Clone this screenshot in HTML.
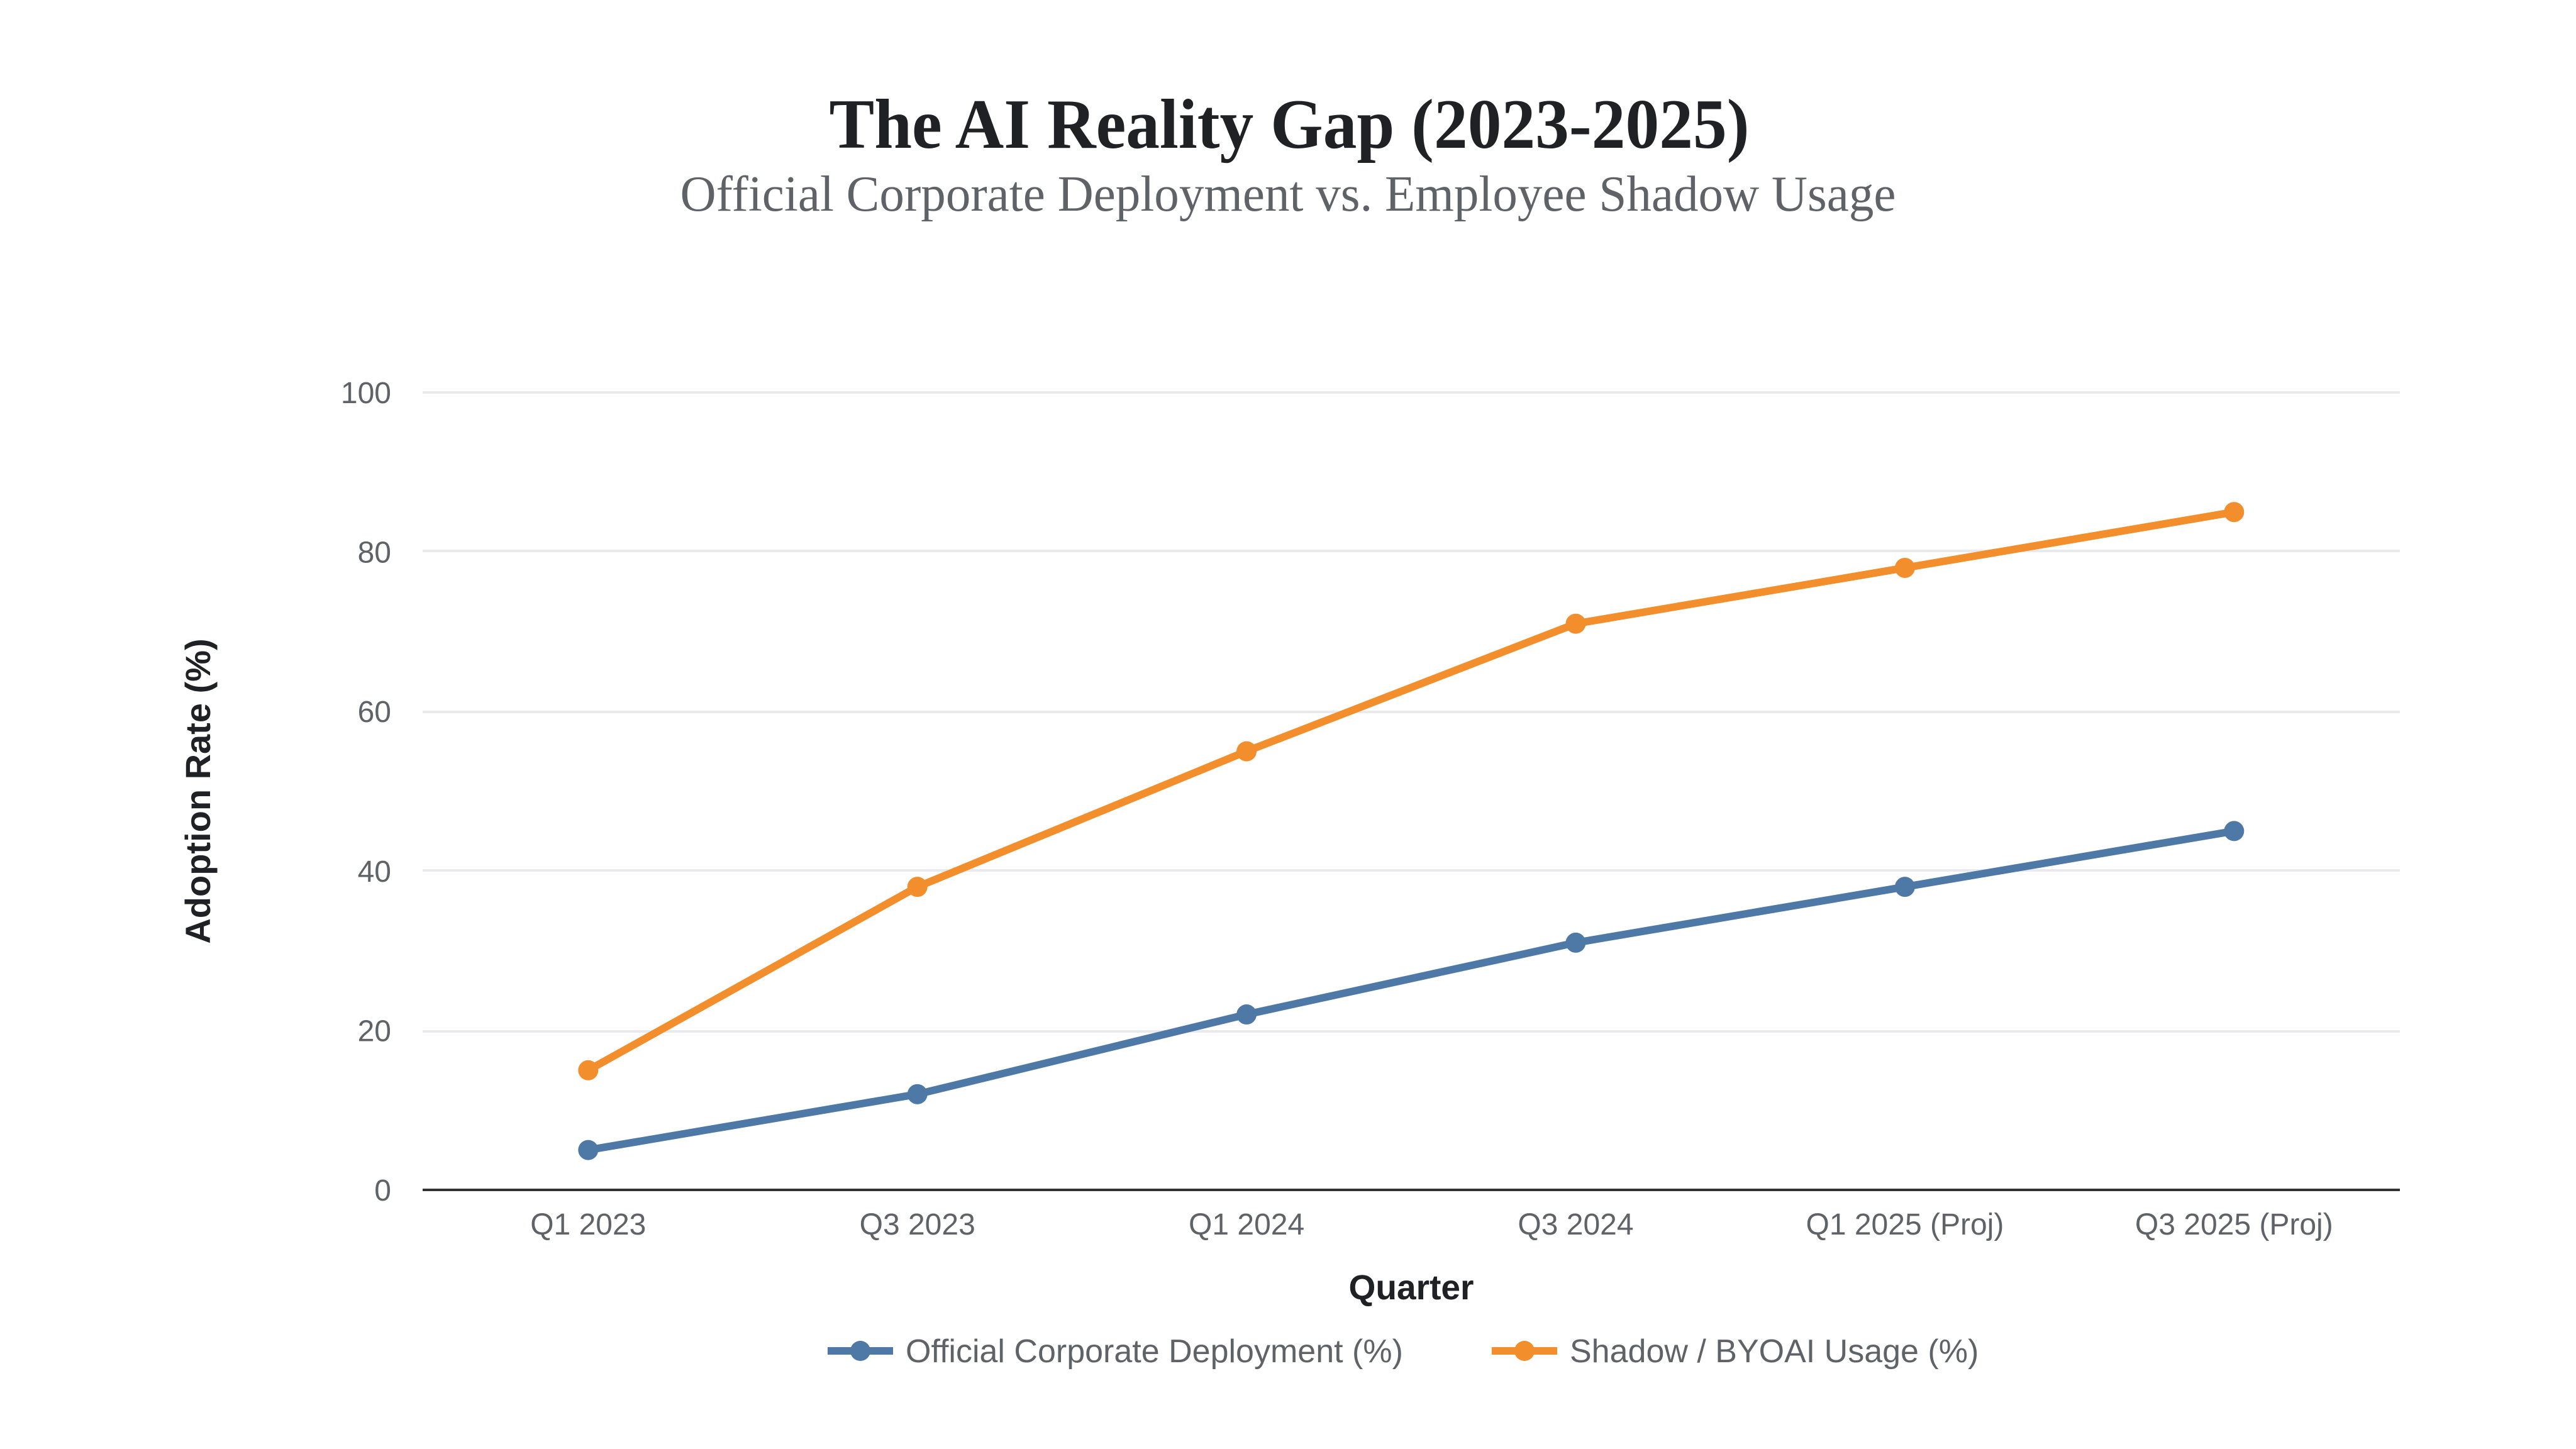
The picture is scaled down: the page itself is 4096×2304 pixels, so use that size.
<!DOCTYPE html>
<html lang="en">
<head>
<meta charset="utf-8">
<title>The AI Reality Gap (2023-2025)</title>
<style>
html,body{margin:0;padding:0;background:#fff;width:4096px;height:2304px;overflow:hidden}
svg{display:block}
.sans{font-family:"Liberation Sans",Arial,sans-serif}
.serif{font-family:"Liberation Serif",serif}
</style>
</head>
<body>
<svg id="chart" xmlns="http://www.w3.org/2000/svg" width="4096" height="2304" viewBox="0 0 4096 2304">
  <rect x="0" y="0" width="4096" height="2304" fill="#ffffff"/>
  <text class="serif" x="2050" y="235" text-anchor="middle" font-size="112" font-weight="700" fill="#202124" textLength="1463" lengthAdjust="spacingAndGlyphs">The AI Reality Gap (2023-2025)</text>
  <text class="serif" x="2048" y="335" text-anchor="middle" font-size="80" fill="#5f6368" textLength="1933" lengthAdjust="spacingAndGlyphs">Official Corporate Deployment vs. Employee Shadow Usage</text>
  <g id="grid"></g>
  <g id="y-ticks"></g>
  <g id="x-ticks"></g>
  <line x1="672" x2="3816" y1="1892" y2="1892" stroke="#333333" stroke-width="4"/>
  <g id="series"></g>
  <text class="sans" transform="translate(334 1258) rotate(-90)" text-anchor="middle" font-size="56" font-weight="700" fill="#202124">Adoption Rate (%)</text>
  <text class="sans" x="2244" y="2066" text-anchor="middle" font-size="56" font-weight="700" fill="#202124" textLength="199" lengthAdjust="spacingAndGlyphs">Quarter</text>
  <g>
    <g>
      <line x1="1316" x2="1420" y1="2148" y2="2148" stroke="#4e79a7" stroke-width="12"/>
      <circle cx="1368" cy="2148" r="16" fill="#4e79a7"/>
      <text class="sans" x="1440" y="2166" font-size="52" fill="#5f6368">Official Corporate Deployment (%)</text>
    </g>
    <g>
      <line x1="2372" x2="2476" y1="2148" y2="2148" stroke="#f28e2b" stroke-width="12"/>
      <circle cx="2424" cy="2148" r="16" fill="#f28e2b"/>
      <text class="sans" x="2496" y="2166" font-size="52" fill="#5f6368">Shadow / BYOAI Usage (%)</text>
    </g>
  </g>
</svg>
<script>
const categories = ["Q1 2023", "Q3 2023", "Q1 2024", "Q3 2024", "Q1 2025 (Proj)", "Q3 2025 (Proj)"];
const officialValues = [5, 12, 22, 31, 38, 45];
const shadowValues = [15, 38, 55, 71, 78, 85];
const yTickValues = [0, 20, 40, 60, 80, 100];

const NS = "http://www.w3.org/2000/svg";
const plot = { left: 672, right: 3816, top: 624, bottom: 1892, insetLeft: 263.3, insetRight: 263.7 };
const yMax = 100;
function xScale(i) {
  const first = plot.left + plot.insetLeft;
  const last = plot.right - plot.insetRight;
  return first + (last - first) * i / (categories.length - 1);
}
function yScale(v) {
  return plot.bottom - (v / yMax) * (plot.bottom - plot.top);
}
function snap(y) {
  return Math.round(y / 4) * 4;
}
function make(tag, attrs, parent) {
  const el = document.createElementNS(NS, tag);
  for (const k in attrs) el.setAttribute(k, attrs[k]);
  parent.appendChild(el);
  return el;
}
const gridG = document.getElementById("grid");
const yG = document.getElementById("y-ticks");
const xG = document.getElementById("x-ticks");
const seriesG = document.getElementById("series");

yTickValues.forEach(function (v) {
  if (v !== 0) {
    const gy = snap(yScale(v));
    const gl = make("line", { x1: plot.left, x2: plot.right, y1: gy, y2: gy, stroke: "#e8eaed", "stroke-width": 4 }, gridG);
    
    
  }
  const t = make("text", { x: 622, y: yScale(v) + 17, "text-anchor": "end", "font-size": 48, fill: "#5f6368", class: "sans" }, yG);
  t.textContent = String(v);
  
  
});

categories.forEach(function (c, i) {
  const t = make("text", { x: xScale(i), y: 1963, "text-anchor": "middle", "font-size": 48, fill: "#5f6368", class: "sans" }, xG);
  t.textContent = c;
  
  
});

function drawSeries(values, color, key) {
  const pts = values.map(function (v, i) { return xScale(i) + "," + yScale(v); }).join(" ");
  const line = make("polyline", { points: pts, fill: "none", stroke: color, "stroke-width": 12, "stroke-linejoin": "round" }, seriesG);
  
  
  values.forEach(function (v, i) {
    const p = make("circle", { cx: xScale(i), cy: yScale(v), r: 16, fill: color }, seriesG);
    
    
  });
}
drawSeries(officialValues, "#4e79a7", "official");
drawSeries(shadowValues, "#f28e2b", "shadow");
</script>
</body>
</html>
